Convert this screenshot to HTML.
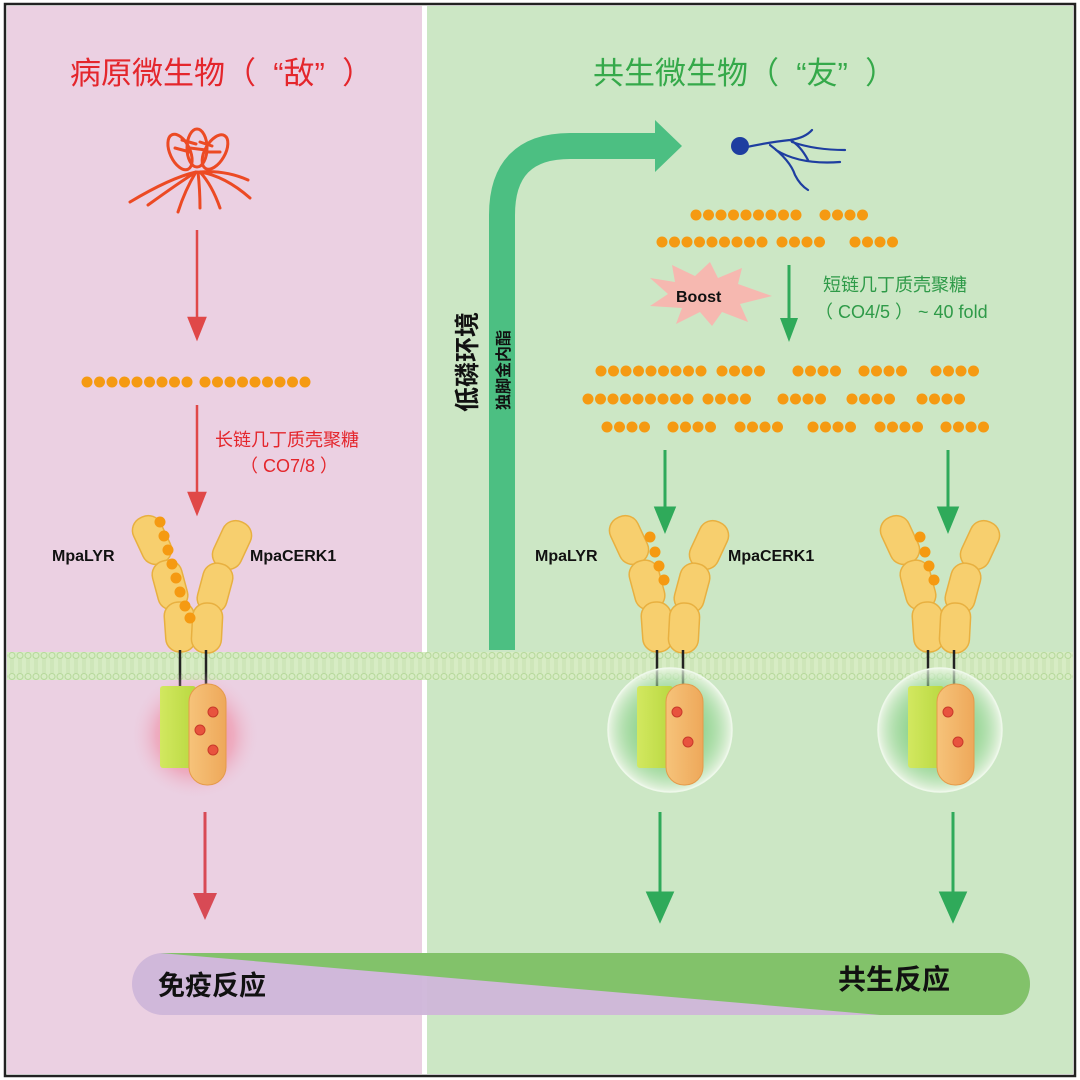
<!DOCTYPE html>
<html><head><meta charset="utf-8"><style>
html,body{margin:0;padding:0;background:#fff;}
svg{display:block;}
text{font-family:"Liberation Sans","Noto Sans CJK SC",sans-serif;}
</style></head><body>
<svg width="1080" height="1080" viewBox="0 0 1080 1080" xmlns="http://www.w3.org/2000/svg">
<defs>
<pattern id="mem" x="0" y="652" width="8" height="28" patternUnits="userSpaceOnUse">
<rect width="8" height="28" fill="#d7ecc4"/>
<circle cx="4" cy="3.5" r="3" fill="none" stroke="#b5d89a" stroke-width="1"/>
<circle cx="4" cy="24.5" r="3" fill="none" stroke="#b5d89a" stroke-width="1"/>
<line x1="3" y1="7" x2="3" y2="21" stroke="#c2dfa9" stroke-width="0.8"/>
<line x1="5" y1="7" x2="5" y2="21" stroke="#c2dfa9" stroke-width="0.8"/>
</pattern>
<radialGradient id="rg"><stop offset="0" stop-color="#f0607a" stop-opacity="0.9"/><stop offset="0.6" stop-color="#f08aa0" stop-opacity="0.5"/><stop offset="1" stop-color="#ecd0e2" stop-opacity="0"/></radialGradient>
<radialGradient id="gg"><stop offset="0" stop-color="#2fb040" stop-opacity="0.9"/><stop offset="0.65" stop-color="#7fcf80" stop-opacity="0.5"/><stop offset="0.95" stop-color="#e4f3df" stop-opacity="0.7"/><stop offset="1" stop-color="#f2faf0" stop-opacity="0.8"/></radialGradient>
<linearGradient id="kg" x1="0" x2="1"><stop offset="0" stop-color="#d2e860"/><stop offset="1" stop-color="#b9d840"/></linearGradient>
<linearGradient id="ko" x1="0" x2="1"><stop offset="0" stop-color="#f6c37a"/><stop offset="1" stop-color="#eea85a"/></linearGradient>
<g id="seg"><rect x="-15" y="-25" width="30" height="50" rx="14" fill="#f7cf6e" stroke="#e8b040" stroke-width="1.5"/></g>
<g id="rec">
<use href="#seg" transform="translate(152,540) rotate(-25)"/>
<use href="#seg" transform="translate(170,585) rotate(-15)"/>
<use href="#seg" transform="translate(180,627) rotate(-4)"/>
<use href="#seg" transform="translate(232,545) rotate(25)"/>
<use href="#seg" transform="translate(215,588) rotate(15)"/>
<use href="#seg" transform="translate(207,628) rotate(3)"/>
<line x1="180" y1="650" x2="180" y2="686" stroke="#222" stroke-width="2.5"/>
<line x1="206" y1="650" x2="206" y2="686" stroke="#222" stroke-width="2.5"/>
</g>
<g id="kin">
<rect x="160" y="686" width="36" height="82" rx="3" fill="url(#kg)"/>
<rect x="189" y="684" width="37" height="101" rx="18" fill="url(#ko)" stroke="#e59a4a" stroke-width="1"/>
</g>
<g id="d"><circle r="5.5" fill="#f59a12"/></g>
<g id="r9"><use href="#d" x="0"/><use href="#d" x="12.5"/><use href="#d" x="25"/><use href="#d" x="37.5"/><use href="#d" x="50"/><use href="#d" x="62.5"/><use href="#d" x="75"/><use href="#d" x="87.5"/><use href="#d" x="100"/></g>
<g id="r4"><use href="#d" x="0"/><use href="#d" x="12.5"/><use href="#d" x="25"/><use href="#d" x="37.5"/></g>
</defs>

<!-- frame -->
<rect x="5" y="4" width="1070" height="1072" fill="#fff" stroke="#222" stroke-width="2.5"/>
<rect x="7" y="6" width="415" height="1068" fill="#ebd0e2"/>
<rect x="427" y="6" width="646" height="1068" fill="#cce7c5"/>

<!-- titles -->
<text x="70" y="84" font-size="31" fill="#e4262c" style="white-space:pre" xml:space="preserve">病原微生物（  “敌”  ）</text>
<text x="593" y="84" font-size="31" fill="#35a94a" style="white-space:pre" xml:space="preserve">共生微生物（  “友”  ）</text>

<!-- fungus -->
<g stroke="#ec4a24" stroke-width="3" fill="none" stroke-linecap="round">
<ellipse cx="180" cy="152" rx="10" ry="19" transform="rotate(-25 180 152)"/>
<ellipse cx="197" cy="148" rx="10" ry="19"/>
<ellipse cx="215" cy="152" rx="10" ry="19" transform="rotate(30 215 152)"/>
<path d="M175 148 L190 152 M182 140 L196 144 M190 148 L206 150 M200 142 L212 146 M208 152 L220 152"/>
<path d="M196 172 Q170 178 130 202 M196 172 Q180 182 148 205 M196 172 Q185 190 178 212 M198 172 Q200 190 200 208 M200 172 Q212 185 220 208 M200 172 Q225 176 250 198 M200 172 Q225 170 248 180"/>
</g>

<!-- red arrows -->
<g stroke="#e04848" stroke-width="2.5" fill="#e04848">
<line x1="197" y1="230" x2="197" y2="325"/><path d="M189 318 L197 338 L205 318Z"/>
<line x1="197" y1="405" x2="197" y2="500"/><path d="M189 493 L197 513 L205 493Z"/>
</g>
<line x1="205" y1="812" x2="205" y2="900" stroke="#d84a55" stroke-width="3"/><path d="M193 893 L205 920 L217 893Z" fill="#d84a55"/>

<!-- left dots -->
<use href="#r9" x="87" y="382"/>
<use href="#r9" x="205" y="382"/>

<text x="215" y="446" font-size="18" fill="#e4262c">长链几丁质壳聚糖</text>
<text x="240" y="472" font-size="18" fill="#e4262c">（ CO7/8 ）</text>

<text x="52" y="561" font-size="16" font-weight="bold" fill="#111">MpaLYR</text>
<text x="250" y="561" font-size="16" font-weight="bold" fill="#111">MpaCERK1</text>
<text x="535" y="561" font-size="16" font-weight="bold" fill="#111">MpaLYR</text>
<text x="728" y="561" font-size="16" font-weight="bold" fill="#111">MpaCERK1</text>

<!-- green bent arrow -->
<path d="M502 650 L502 215 Q502 146 570 146 L660 146" fill="none" stroke="#4cbf82" stroke-width="26"/>
<path d="M655 120 L682 146 L655 172Z" fill="#4cbf82"/>
<text transform="translate(476,412) rotate(-90)" font-size="25" font-weight="bold" fill="#111">低磷环境</text>
<text transform="translate(509,410) rotate(-90)" font-size="16" font-weight="bold" fill="#111">独脚金内酯</text>

<!-- bacterium -->
<g stroke="#1e3ea0" stroke-width="2.2" fill="none" stroke-linecap="round">
<path d="M742 148 Q770 142 790 140 Q805 138 812 130 M790 140 Q800 145 808 160 M792 142 Q815 150 845 150 M770 145 Q790 160 795 175 Q800 185 808 190 M776 150 Q800 165 840 162"/>
</g>
<circle cx="740" cy="146" r="9" fill="#1e3ea0"/>

<!-- dot rows right -->
<use href="#r9" x="696" y="215"/><use href="#r4" x="825" y="215"/>
<use href="#r9" x="662" y="242"/><use href="#r4" x="782" y="242"/><use href="#r4" x="855" y="242"/>
<use href="#r9" x="601" y="371"/><use href="#r4" x="722" y="371"/><use href="#r4" x="798" y="371"/><use href="#r4" x="864" y="371"/><use href="#r4" x="936" y="371"/>
<use href="#r9" x="588" y="399"/><use href="#r4" x="708" y="399"/><use href="#r4" x="783" y="399"/><use href="#r4" x="852" y="399"/><use href="#r4" x="922" y="399"/>
<use href="#r4" x="607" y="427"/><use href="#r4" x="673" y="427"/><use href="#r4" x="740" y="427"/><use href="#r4" x="813" y="427"/><use href="#r4" x="880" y="427"/><use href="#r4" x="946" y="427"/>

<!-- boost -->
<path d="M650 278 L675 282 L672 265 L695 276 L710 262 L718 278 L742 268 L738 284 L772 296 L740 304 L748 322 L722 312 L712 326 L700 312 L676 324 L682 308 L650 306 L668 294Z" fill="#f6b8b0"/>
<text x="676" y="302" font-size="16" font-weight="bold" fill="#111">Boost</text>

<line x1="789" y1="265" x2="789" y2="325" stroke="#2faa5a" stroke-width="3"/><path d="M780 318 L789 342 L798 318Z" fill="#2faa5a"/>
<text x="823" y="291" font-size="18" fill="#2e9a48">短链几丁质壳聚糖</text>
<text x="815" y="318" font-size="18" fill="#2e9a48">（ CO4/5 ） ~ 40 fold</text>

<!-- green arrows -->
<g fill="#2faa5a" stroke="#2faa5a" stroke-width="3">
<line x1="665" y1="450" x2="665" y2="515"/><path d="M656 508 L665 530 L674 508Z"/>
<line x1="948" y1="450" x2="948" y2="515"/><path d="M939 508 L948 530 L957 508Z"/>
<line x1="660" y1="812" x2="660" y2="900"/><path d="M648 893 L660 920 L672 893Z"/>
<line x1="953" y1="812" x2="953" y2="900"/><path d="M941 893 L953 920 L965 893Z"/>
</g>

<!-- membrane -->
<rect x="7" y="652" width="1066" height="28" fill="url(#mem)"/>

<!-- receptors -->
<use href="#rec"/>
<use href="#rec" x="477"/>
<use href="#rec" x="748"/>
<!-- ligand dots -->
<use href="#d" x="160" y="522"/><use href="#d" x="164" y="536"/><use href="#d" x="168" y="550"/><use href="#d" x="172" y="564"/><use href="#d" x="176" y="578"/><use href="#d" x="180" y="592"/><use href="#d" x="185" y="606"/><use href="#d" x="190" y="618"/>
<use href="#d" x="650" y="537"/><use href="#d" x="655" y="552"/><use href="#d" x="659" y="566"/><use href="#d" x="664" y="580"/>
<use href="#d" x="920" y="537"/><use href="#d" x="925" y="552"/><use href="#d" x="929" y="566"/><use href="#d" x="934" y="580"/>

<!-- glows + kinases -->
<circle cx="195" cy="735" r="65" fill="url(#rg)"/>
<use href="#kin"/>
<g fill="#e8533e" stroke="#c83a2a" stroke-width="1"><circle cx="213" cy="712" r="5"/><circle cx="200" cy="730" r="5"/><circle cx="213" cy="750" r="5"/></g>

<circle cx="670" cy="730" r="62" fill="url(#gg)" stroke="#eef8ea" stroke-width="1.5"/>
<use href="#kin" x="477"/>
<g fill="#e8533e" stroke="#c83a2a" stroke-width="1"><circle cx="677" cy="712" r="5"/><circle cx="688" cy="742" r="5"/></g>

<circle cx="940" cy="730" r="62" fill="url(#gg)" stroke="#eef8ea" stroke-width="1.5"/>
<use href="#kin" x="748"/>
<g fill="#e8533e" stroke="#c83a2a" stroke-width="1"><circle cx="948" cy="712" r="5"/><circle cx="958" cy="742" r="5"/></g>

<!-- bottom bar -->
<rect x="132" y="953" width="898" height="62" rx="31" fill="#cfb6d9" opacity="0.95"/>
<path d="M160 953 L999 953 A31 31 0 0 1 999 1015 L880 1015 Z" fill="#82c26a"/>
<text x="158" y="995" font-size="27" font-weight="bold" fill="#111">免疫反应</text>
<text x="838" y="989" font-size="28" font-weight="bold" fill="#111">共生反应</text>
</svg>
</body></html>
